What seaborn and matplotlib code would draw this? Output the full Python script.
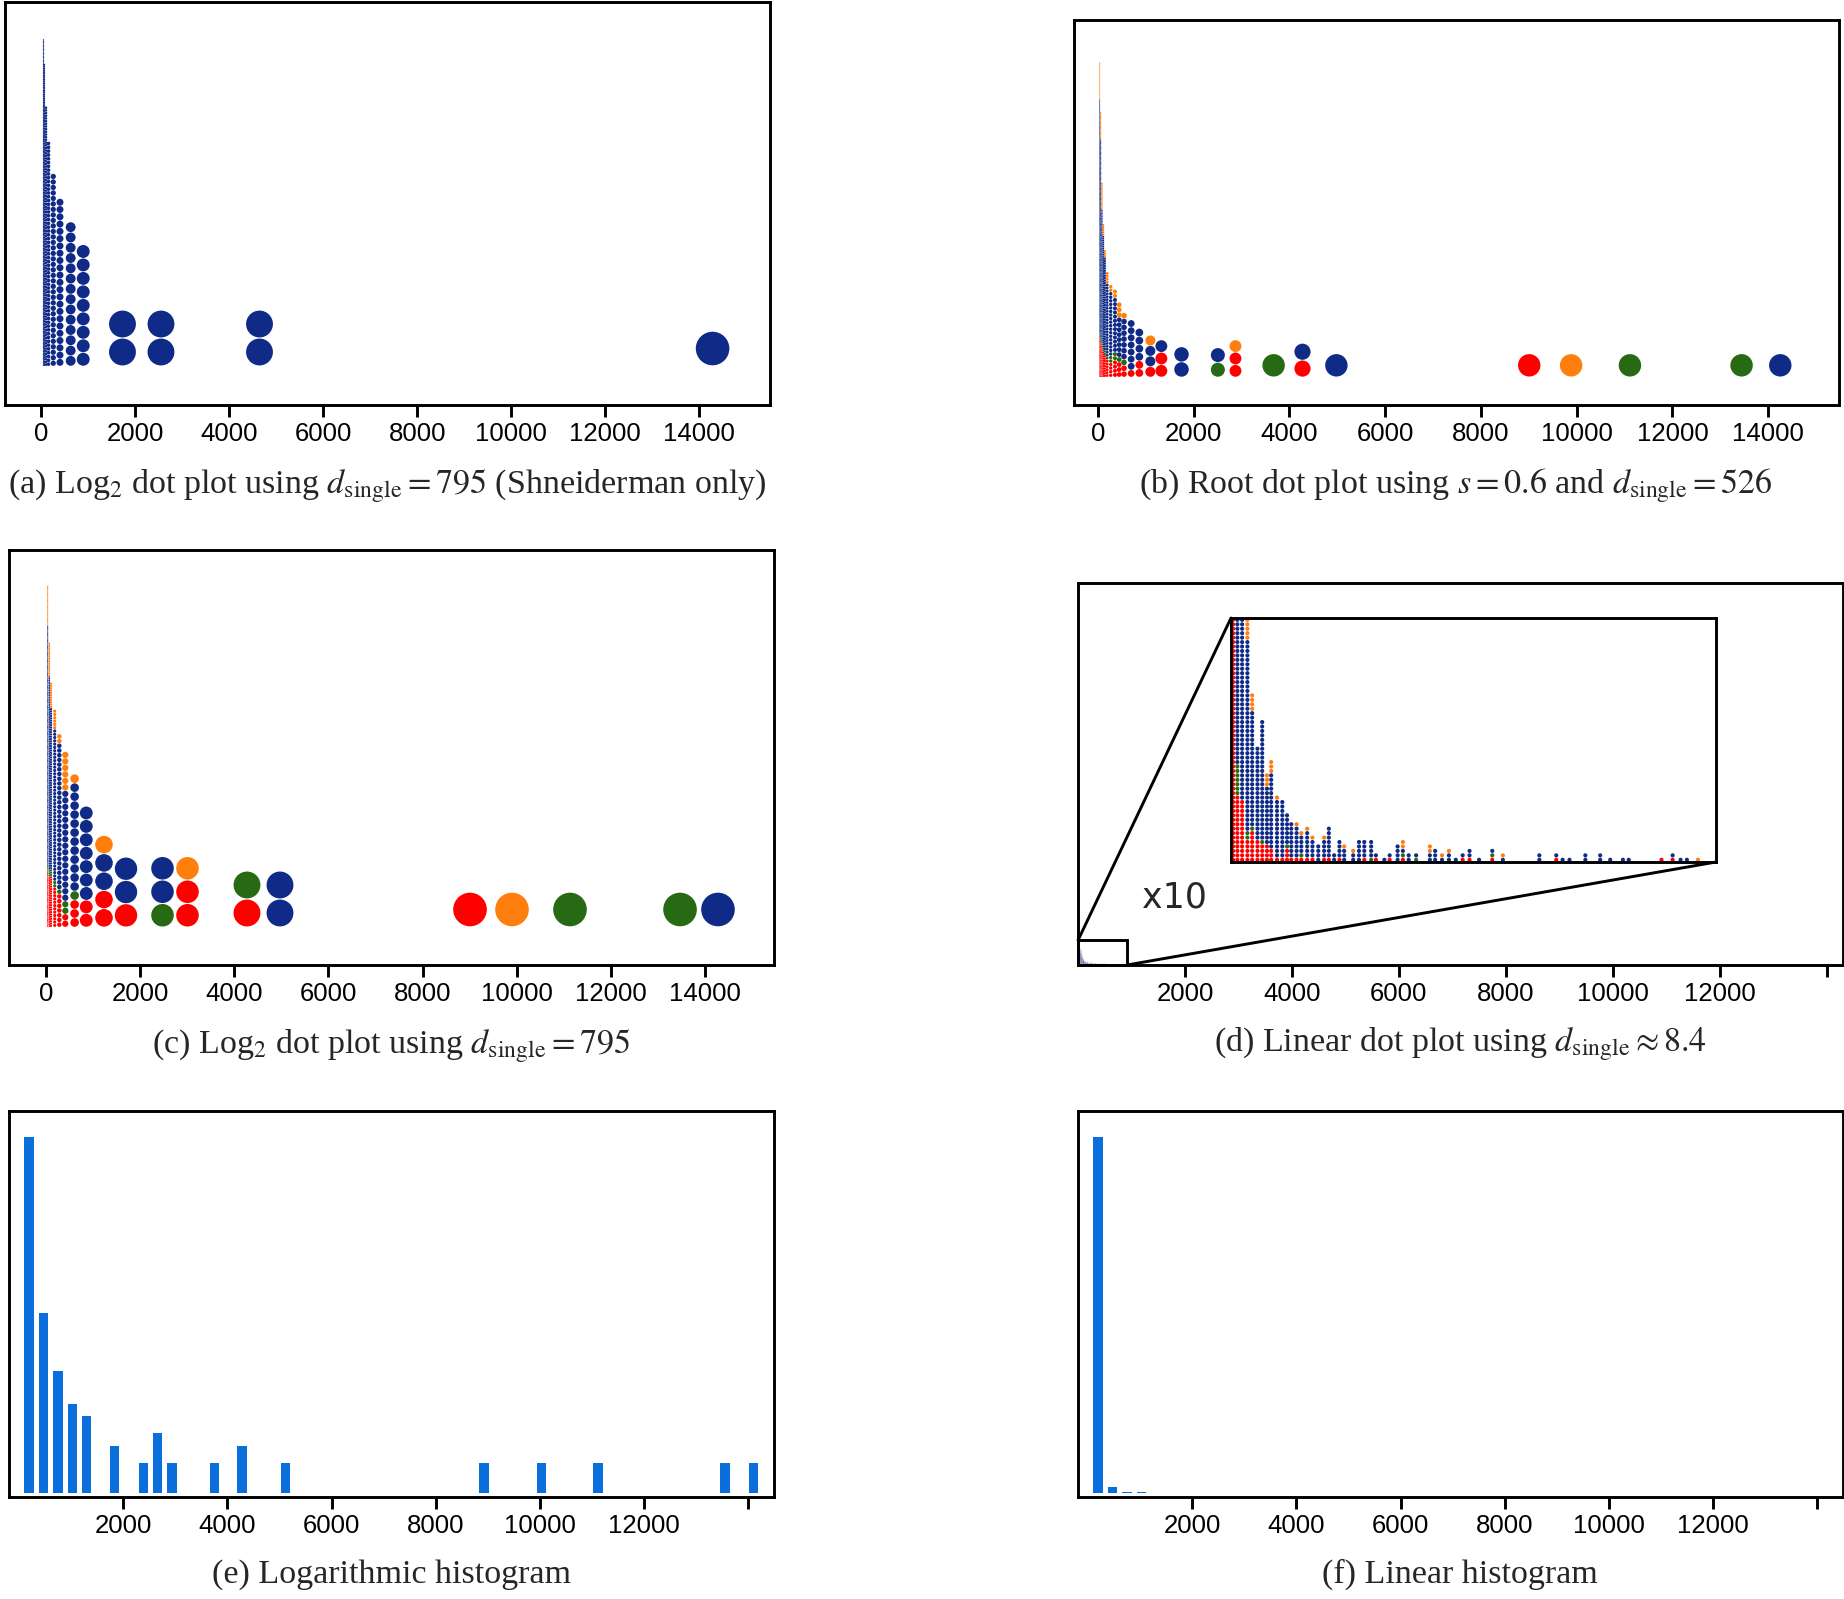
# %% Dot plots vs histograms for the same skewed data set
import numpy as np
import pandas as pd
import matplotlib
matplotlib.use('Agg')
import matplotlib.pyplot as plt
from matplotlib.patches import ConnectionPatch
import seaborn as sns

# %%
# Data
CATS = ['red', 'green', 'blue', 'orange']   # stacking order, bottom to top
PALETTE = {'red': '#ff0000', 'green': '#286914', 'blue': '#102a87', 'orange': '#ff7f0e'}
HIST_COLOR = '#0a6edc'

# (a) log2 dot plot, Shneiderman only
a_x = [43, 60, 96, 149, 251, 394, 622, 889, 1725, 2545, 4643, 14292]
a_diam = [29, 40, 57, 81, 117, 155, 219, 287, 596, 596, 596, 745]
a_blue = [240, 161, 97, 59, 35, 23, 14, 9, 2, 2, 2, 1]

# (b) root dot plot
b_x = [37, 57, 83, 112, 144, 193, 267, 356, 444, 545, 694, 865, 1095, 1325, 1746,
       2505, 2873, 3670, 4273, 4981, 9009, 9884, 11113, 13445, 14253]
b_diam = [20, 26, 33, 41, 51, 61, 74, 87, 104, 122, 149, 169, 218, 258, 315,
          305, 258, 488, 352, 488, 488, 488, 488, 488, 488]
b_red = [42, 28, 20, 13, 9, 6, 4, 4, 3, 2, 1, 2, 1, 2, 0, 0, 2, 0, 1, 0, 1, 0, 0, 0, 0]
b_green = [5, 5, 3, 2, 2, 1, 2, 2, 1, 1, 0, 0, 0, 0, 0, 1, 0, 1, 0, 0, 0, 0, 1, 1, 0]
b_blue = [243, 158, 83, 57, 38, 25, 18, 13, 8, 7, 7, 4, 2, 1, 2, 1, 0, 0, 1, 1, 0, 0, 0, 0, 1]
b_orange = [39, 22, 17, 6, 3, 4, 2, 2, 3, 1, 0, 0, 1, 0, 0, 0, 1, 0, 0, 0, 0, 1, 0, 0, 0]

# (c) log2 dot plot, all groups
c_x = [36, 70, 106, 185, 283, 410, 608, 855, 1232, 1700, 2475, 3006, 4270, 4971,
       9008, 9900, 11132, 13470, 14276]
c_diam = [25, 36, 49, 70, 100, 138, 191, 285, 389, 495, 499, 499, 595, 595,
          744, 744, 744, 744, 744]
c_red = [46, 30, 22, 12, 7, 2, 3, 2, 2, 1, 0, 2, 1, 0, 1, 0, 0, 0, 0]
c_green = [6, 4, 3, 2, 1, 2, 1, 0, 0, 0, 1, 0, 1, 0, 0, 0, 1, 1, 0]
c_blue = [204, 114, 70, 46, 31, 17, 12, 7, 2, 2, 2, 0, 0, 2, 0, 0, 0, 0, 1]
c_orange = [34, 20, 11, 6, 2, 6, 1, 0, 1, 0, 0, 1, 0, 0, 0, 1, 0, 0, 0]

# (d) linear dot plot (only the part shown in the x10 inset)
d_single = 8.4
d_x = [4, 12, 21, 31, 40, 50, 59, 68, 76, 87, 97, 106, 114, 124, 133, 144, 154, 165,
       176, 185, 195, 205, 214, 231, 242, 252, 265, 274, 290, 300, 315, 325, 336, 350,
       376, 386, 399, 412, 425, 438, 451, 469, 494, 514, 583, 615, 627, 640, 670, 698,
       717, 741, 752, 814, 835, 850, 862, 883]
d_red = [70, 15, 14, 5, 7, 5, 4, 4, 3, 1, 1, 3, 1, 1, 1, 1, 1, 0, 1, 1, 0, 1, 0, 0,
         0, 1, 0, 1, 0, 1, 0, 1, 0, 0, 0, 0, 0, 0, 0, 1, 1, 0, 1, 0, 0, 1, 0, 0, 0, 0,
         0, 0, 0, 1, 1, 0, 0, 0]
d_green = [0, 7, 0, 2, 1, 0, 1, 0, 0, 0, 0, 1, 0, 0, 1, 0, 0, 0, 0, 0, 0, 0, 0, 0,
           0, 0, 1, 0, 0, 0, 0, 1, 0, 1, 0, 0, 0, 0, 0, 0, 0, 0, 1, 0, 0, 0, 0, 0, 0, 0,
           0, 0, 0, 0, 0, 0, 0, 0]
d_blue = [0, 50, 60, 43, 26, 21, 27, 13, 17, 13, 13, 7, 8, 7, 4, 6, 4, 4, 4, 7, 2, 4, 3, 2,
          5, 4, 4, 1, 1, 1, 4, 1, 2, 1, 2, 3, 1, 2, 1, 1, 2, 1, 1, 1, 2, 1, 1, 1, 2, 2,
          1, 1, 1, 0, 1, 1, 1, 0]
d_orange = [0, 0, 0, 94, 4, 0, 0, 3, 3, 1, 0, 0, 0, 1, 1, 1, 1, 0, 1, 0, 0, 0, 1, 1,
            0, 0, 0, 0, 0, 0, 0, 2, 0, 0, 2, 0, 1, 1, 0, 0, 0, 0, 0, 1, 0, 0, 0, 0, 0, 0,
            0, 0, 0, 0, 0, 0, 0, 1]

# (e)/(f) histogram bins
hist_centers = [190, 469, 748, 1026, 1295, 1832, 2384, 2662, 2936, 3747, 4284, 5114,
                8933, 10032, 11121, 13560, 14111]
hist_counts = [4000, 65, 16, 7, 5, 2, 1, 3, 1, 1, 2, 1, 1, 1, 1, 1, 1]

captions = [
    r'(a) Log$_2$ dot plot using $d_{\mathrm{single}} = 795$ (Shneiderman only)',
    r'(b) Root dot plot using $s = 0.6$ and $d_{\mathrm{single}} = 526$',
    r'(c) Log$_2$ dot plot using $d_{\mathrm{single}} = 795$',
    r'(d) Linear dot plot using $d_{\mathrm{single}} \approx 8.4$',
    '(e) Logarithmic histogram',
    '(f) Linear histogram',
]

# %%
# Figure setup
W, H, DPI = 1844, 1599, 100
sns.set_theme(style='white')
plt.rcParams['font.family'] = ['Liberation Sans', 'DejaVu Sans']
plt.rcParams['mathtext.fontset'] = 'stix'

fig = plt.figure(figsize=(W / DPI, H / DPI), dpi=DPI)


def add_ax(left, top, right, bottom):
    return fig.add_axes([left / W, 1 - bottom / H, (right - left) / W, (bottom - top) / H])


def style_ax(ax, xlim, ticks, labels):
    ax.set_xlim(*xlim)
    ax.set_xticks(ticks)
    ax.set_xticklabels(labels)
    ax.set_yticks([])
    ax.set_xlabel('')
    ax.set_ylabel('')
    for sp in ax.spines.values():
        sp.set_visible(True)
        sp.set_color('black')
        sp.set_linewidth(2.1)
    ax.tick_params(axis='x', direction='out', length=8.5, width=2.1, pad=4,
                   labelsize=18.5, colors='black', bottom=True)


def square_ylim(ax, base_px):
    # y units drawn at the same screen scale as x units, so dots stay round
    bbox = ax.get_position()
    x0, x1 = ax.get_xlim()
    upp = (x1 - x0) / (bbox.width * W)
    h_px = bbox.height * H
    ax.set_ylim(-base_px * upp, (h_px - base_px) * upp)
    return upp


def dot_frame(xs, diams, counts):
    rows = []
    for i, (x, d) in enumerate(zip(xs, diams)):
        level = 0
        for cat in CATS:
            for _ in range(counts[cat][i]):
                rows.append({'x': x, 'y': (level + 0.5) * d, 'diam': d, 'cat': cat})
                level += 1
    return pd.DataFrame(rows)


def draw_dots(ax, df, base_px, fill=0.96):
    upp = square_ylim(ax, base_px)
    sizes = (df['diam'] / upp * 72 / DPI * fill) ** 2
    sns.scatterplot(data=df, x='x', y='y', hue='cat', palette=PALETTE,
                    s=sizes.values, linewidth=0, legend=False, ax=ax)
    ax.set_xlabel('')
    ax.set_ylabel('')


ticks_full = list(range(0, 14001, 2000))
labels_full = [str(t) for t in ticks_full]
ticks_lin = list(range(2000, 14001, 2000))
labels_lin = [str(t) for t in ticks_lin[:-1]] + ['']

zeros = lambda n: [0] * n

# %%
# (a)
ax_a = add_ax(5, 2, 770, 405)
style_ax(ax_a, (-777, 15515), ticks_full, labels_full)
df_a = dot_frame(a_x, a_diam, {'red': zeros(len(a_x)), 'green': zeros(len(a_x)),
                               'blue': a_blue, 'orange': zeros(len(a_x))})
draw_dots(ax_a, df_a, base_px=39)

# (b)
ax_b = add_ax(1074, 20, 1839, 405)
style_ax(ax_b, (-500, 15480), ticks_full, labels_full)
df_b = dot_frame(b_x, b_diam, {'red': b_red, 'green': b_green, 'blue': b_blue, 'orange': b_orange})
draw_dots(ax_b, df_b, base_px=28)

# (c)
ax_c = add_ax(9, 550, 774, 965)
style_ax(ax_c, (-786, 15466), ticks_full, labels_full)
df_c = dot_frame(c_x, c_diam, {'red': c_red, 'green': c_green, 'blue': c_blue, 'orange': c_orange})
draw_dots(ax_c, df_c, base_px=38)

# (d) with x10 inset
ax_d = add_ax(1078, 583, 1843, 965)
style_ax(ax_d, (0, 14306), ticks_lin, labels_lin)
df_d = dot_frame(d_x, [d_single] * len(d_x),
                 {'red': d_red, 'green': d_green, 'blue': d_blue, 'orange': d_orange})
draw_dots(ax_d, df_d, base_px=0, fill=0.95)

ax_in = add_ax(1231, 618, 1716, 862)
ax_in.set_xlim(0, 917)
draw_dots(ax_in, df_d, base_px=0, fill=0.93)
ax_in.set_xticks([])
ax_in.set_yticks([])
for sp in ax_in.spines.values():
    sp.set_visible(True)
    sp.set_color('black')
    sp.set_linewidth(2.1)
ind = ax_d.indicate_inset_zoom(ax_in, edgecolor='black', linewidth=2.1, alpha=1)

# connector lines: zoom box top-left -> inset top-left, bottom-right -> bottom-right
in_x1 = ax_in.get_xlim()[1]
in_y1 = ax_in.get_ylim()[1]
for xy_a, xy_b in [((0, in_y1), (0, 1)), ((in_x1, 0), (1, 0))]:
    con = ConnectionPatch(xyA=xy_a, coordsA=ax_d.transData, xyB=xy_b, coordsB=ax_in.transAxes,
                          color='black', linewidth=2.1, zorder=5)
    fig.add_artist(con)

fig.text(1174 / W, 1 - 898 / H, 'x10', ha='center', va='center',
         fontsize=25, family=['DejaVu Sans'])

# (e) logarithmic histogram
ax_e = add_ax(9, 1111, 774, 1497)
sns.barplot(x=hist_centers, y=hist_counts, native_scale=True, orient='x', width=0.67,
            color=HIST_COLOR, saturation=1, errorbar=None, linewidth=0, ax=ax_e)
ax_e.set_yscale('function', functions=(np.log1p, np.expm1))
ax_e.set_ylim(-0.089, 7330)
style_ax(ax_e, (-195, 14500), ticks_lin, labels_lin)

# (f) linear histogram
ax_f = add_ax(1078, 1111, 1843, 1497)
sns.barplot(x=hist_centers, y=hist_counts, native_scale=True, orient='x', width=0.67,
            color=HIST_COLOR, saturation=1, errorbar=None, linewidth=0, ax=ax_f)
ax_f.set_ylim(-45, 4292)
style_ax(ax_f, (-195, 14500), ticks_lin, labels_lin)

# %%
# Captions under each panel
cap_pos = [(387, 492), (1456, 493), (391, 1052), (1460, 1051), (391, 1583), (1460, 1583)]
for text, (cx, cy) in zip(captions, cap_pos):
    fig.text(cx / W, 1 - cy / H, text, ha='center', va='baseline',
             fontsize=24.5, family=['Liberation Serif', 'DejaVu Serif'])

fig.savefig('out.png', dpi=DPI)
